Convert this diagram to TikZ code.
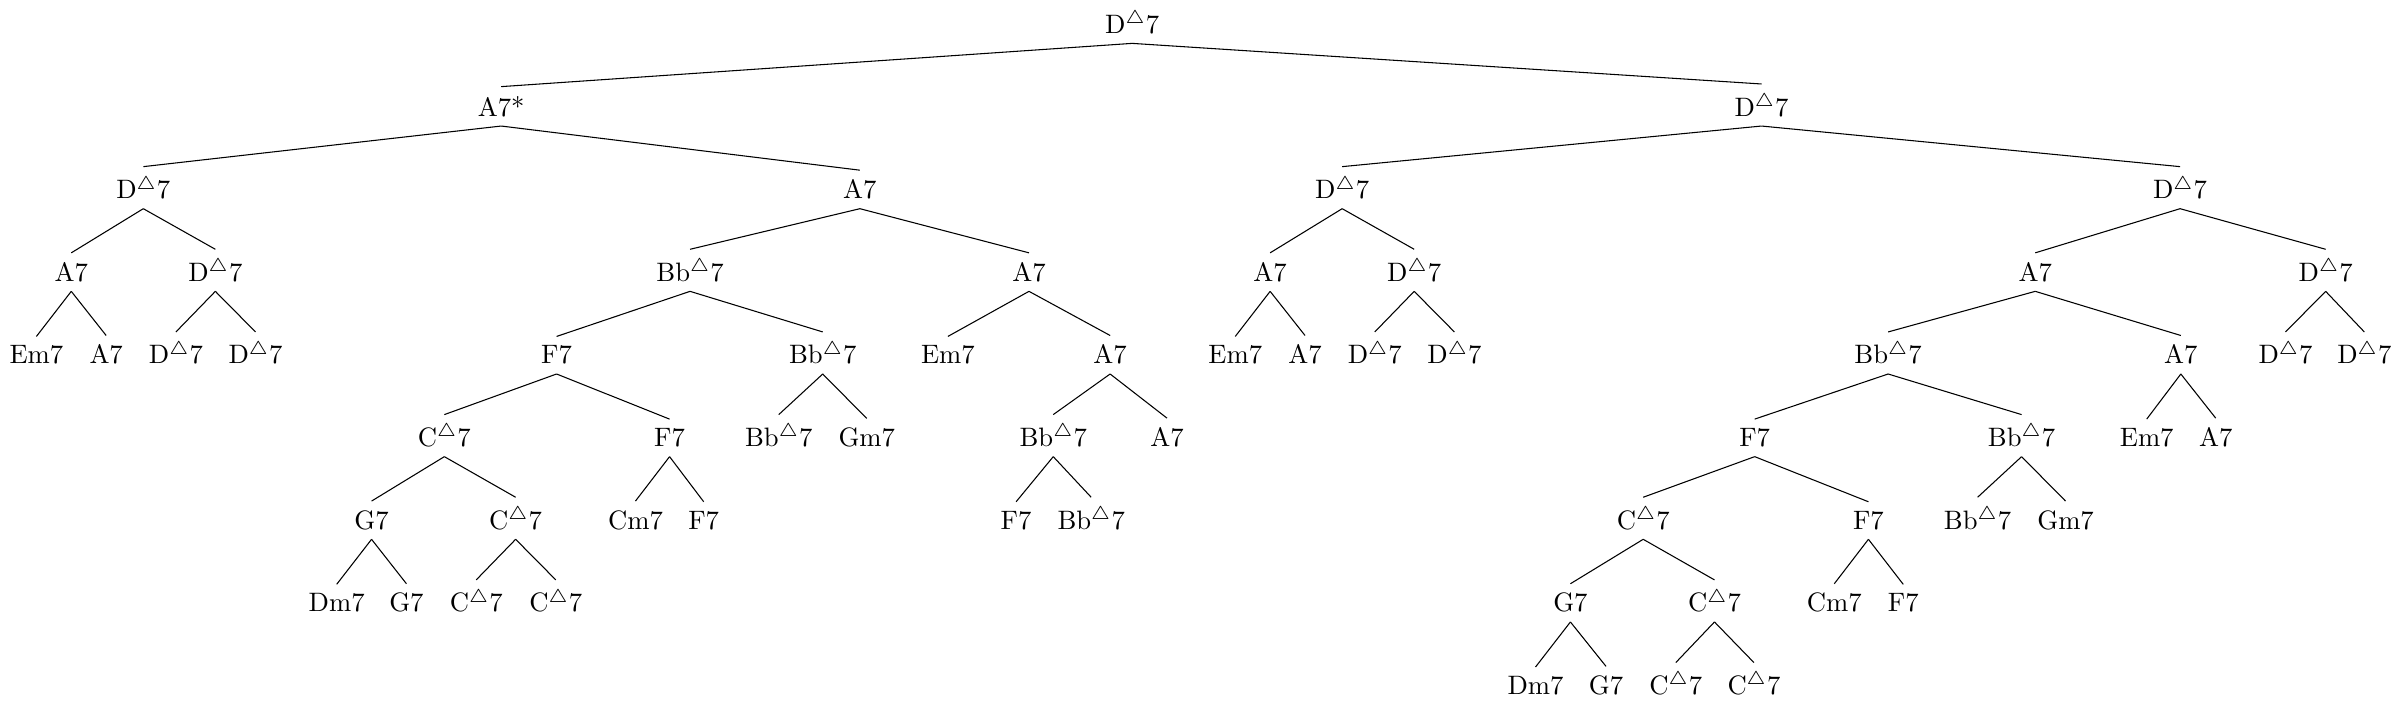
\documentclass[tikz,border=0pt]{standalone}
\usepackage{tikz}
\tikzstyle{chord} = [anchor=base]
\tikzstyle{branch} = [line width=0.4pt]
\newcommand{\mj}[1]{#1$^\triangle$7}

\begin{document}
\begin{tikzpicture}
\useasboundingbox (0,0) rectangle (31.69,-9.31);
% top
\node[chord] (n) at (14.93,-0.44) {\mj{D}};
\node[chord] (n1) at (6.61,-1.53) {A7*};
\node[chord] (n2) at (23.23,-1.53) {\mj{D}};

% left half
\node[chord] (n11) at (1.89,-2.62) {\mj{D}};
\node[chord] (n12) at (11.34,-2.62) {A7};
\node[chord] (n111) at (0.94,-3.71) {A7};
\node[chord] (n112) at (2.84,-3.71) {\mj{D}};
\node[chord] (n1111) at (0.48,-4.80) {Em7};
\node[chord] (n1112) at (1.40,-4.80) {A7};
\node[chord] (n1121) at (2.32,-4.80) {\mj{D}};
\node[chord] (n1122) at (3.37,-4.80) {\mj{D}};
\node[chord] (n121) at (9.10,-3.71) {\mj{Bb}};
\node[chord] (n122) at (13.57,-3.71) {A7};
\node[chord] (n1211) at (7.34,-4.80) {F7};
\node[chord] (n1212) at (10.85,-4.80) {\mj{Bb}};
\node[chord] (n12111) at (5.86,-5.89) {\mj{C}};
\node[chord] (n12112) at (8.83,-5.89) {F7};
\node[chord] (n121111) at (4.90,-6.98) {G7};
\node[chord] (n121112) at (6.80,-6.98) {\mj{C}};
\node[chord] (n1211111) at (4.44,-8.07) {Dm7};
\node[chord] (n1211112) at (5.36,-8.07) {G7};
\node[chord] (n1211121) at (6.28,-8.07) {\mj{C}};
\node[chord] (n1211122) at (7.33,-8.07) {\mj{C}};
\node[chord] (n121121) at (8.38,-6.98) {Cm7};
\node[chord] (n121122) at (9.28,-6.98) {F7};
\node[chord] (n12121) at (10.27,-5.89) {\mj{Bb}};
\node[chord] (n12122) at (11.43,-5.89) {Gm7};
\node[chord] (n1221) at (12.50,-4.80) {Em7};
\node[chord] (n1222) at (14.64,-4.80) {A7};
\node[chord] (n12221) at (13.89,-5.89) {\mj{Bb}};
\node[chord] (n12222) at (15.39,-5.89) {A7};
\node[chord] (n122211) at (13.40,-6.98) {F7};
\node[chord] (n122212) at (14.39,-6.98) {\mj{Bb}};

% right half
\node[chord] (n21) at (17.70,-2.62) {\mj{D}};
\node[chord] (n22) at (28.75,-2.62) {\mj{D}};
\node[chord] (n211) at (16.75,-3.71) {A7};
\node[chord] (n212) at (18.65,-3.71) {\mj{D}};
\node[chord] (n2111) at (16.29,-4.80) {Em7};
\node[chord] (n2112) at (17.21,-4.80) {A7};
\node[chord] (n2121) at (18.13,-4.80) {\mj{D}};
\node[chord] (n2122) at (19.18,-4.80) {\mj{D}};
\node[chord] (n221) at (26.84,-3.71) {A7};
\node[chord] (n222) at (30.67,-3.71) {\mj{D}};
\node[chord] (n2211) at (24.90,-4.80) {\mj{Bb}};
\node[chord] (n2212) at (28.76,-4.80) {A7};
\node[chord] (n2221) at (30.14,-4.80) {\mj{D}};
\node[chord] (n2222) at (31.18,-4.80) {\mj{D}};
\node[chord] (n22111) at (23.14,-5.89) {F7};
\node[chord] (n22112) at (26.66,-5.89) {\mj{Bb}};
\node[chord] (n22121) at (28.31,-5.89) {Em7};
\node[chord] (n22122) at (29.22,-5.89) {A7};
\node[chord] (n221111) at (21.67,-6.98) {\mj{C}};
\node[chord] (n221112) at (24.64,-6.98) {F7};
\node[chord] (n221121) at (26.08,-6.98) {\mj{Bb}};
\node[chord] (n221122) at (27.24,-6.98) {Gm7};
\node[chord] (n2211111) at (20.71,-8.07) {G7};
\node[chord] (n2211112) at (22.61,-8.07) {\mj{C}};
\node[chord] (n2211121) at (24.19,-8.07) {Cm7};
\node[chord] (n2211122) at (25.10,-8.07) {F7};
\node[chord] (n22111111) at (20.25,-9.16) {Dm7};
\node[chord] (n22111112) at (21.18,-9.16) {G7};
\node[chord] (n22111121) at (22.10,-9.16) {\mj{C}};
\node[chord] (n22111122) at (23.13,-9.16) {\mj{C}};

% branches: every inner node has children \p1 and \p2
\foreach \p in {n,n1,n11,n111,n112,n12,n121,n1211,n12111,n121111,n121112,n12112,n1212,n122,n1222,n12221,
                n2,n21,n211,n212,n22,n221,n2211,n22111,n221111,n2211111,n2211112,n221112,n22112,n2212,n222} {
  \draw[branch] (\p.south) -- (\p1.north);
  \draw[branch] (\p.south) -- (\p2.north);
}
\end{tikzpicture}
\end{document}
